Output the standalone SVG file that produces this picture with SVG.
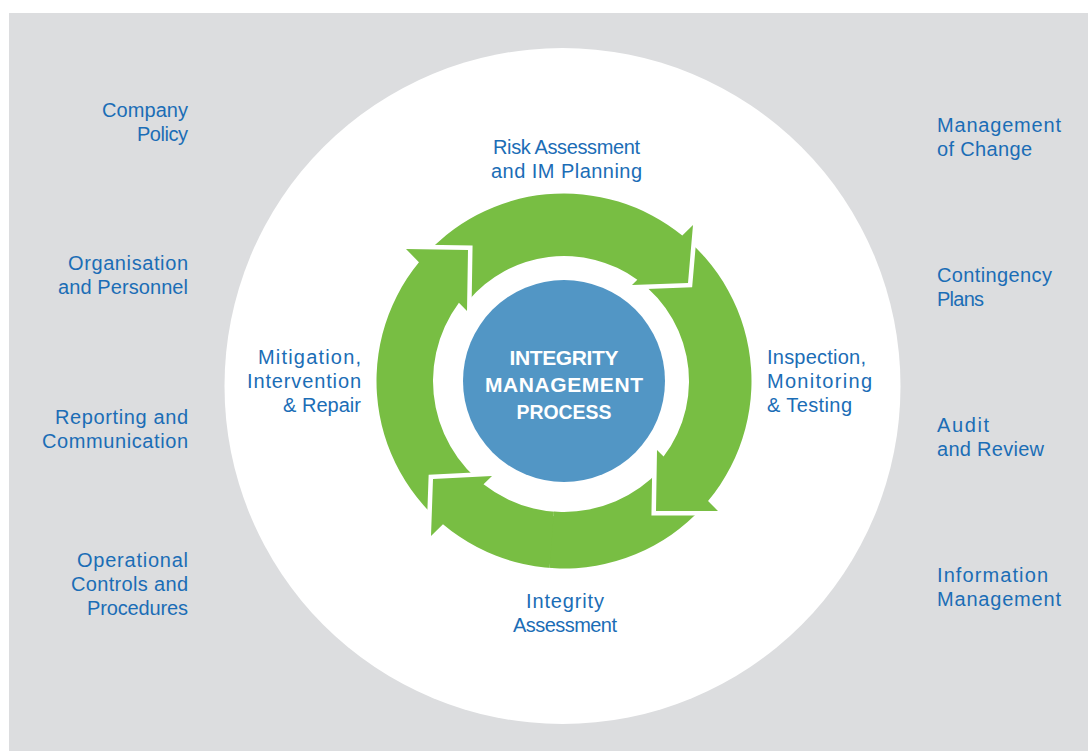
<svg xmlns="http://www.w3.org/2000/svg" width="1088" height="751" viewBox="0 0 1088 751">
  <style>
    .lbl { font-family: "Liberation Sans", Arial, sans-serif; font-size: 20px; fill: #1b6db6; }
    .end { text-anchor: end; }
    .mid { text-anchor: middle; }
    .core { font-family: "Liberation Sans", Arial, sans-serif; font-size: 21px; font-weight: bold; fill: #ffffff; text-anchor: middle; }
    .arrow { fill: #78be43; stroke: #ffffff; stroke-width: 9; stroke-linejoin: miter; paint-order: stroke; }
  </style>
  <defs>
    <clipPath id="wedgeBL">
      <polygon points="564,381 538,720 220,720 220,355"/>
    </clipPath>
    <path id="arrowBottom" d="M 726.38,474.75 A 187.5 187.5 0 0 1 442.98,524.22 L 431,536 L 433,479 L 492,476 L 483.51,484.35 A 131 131 0 0 0 677.45,446.5 Z"/>
  </defs>

  <rect x="9" y="13" width="1079" height="738" fill="#dcdddf"/>
  <circle cx="562.5" cy="386" r="338" fill="#ffffff"/>

  <g id="cycle">
    <g id="arrow-bottom"><use href="#arrowBottom" class="arrow"/></g>
    <g id="arrow-right"><path class="arrow" d="M 657.75,218.62 A 187.5 187.5 0 0 1 708.04,501.04 L 718,511 L 656,511 L 657,450 L 663.57,456.57 A 125 125 0 0 0 626.5,272.75 Z"/></g>
    <g id="arrow-top"><path class="arrow" d="M 420.37,260.48 A 187.5 187.5 0 0 1 682.30,235.53 L 693,225 L 688,283 L 632,285 L 637.32,279.76 A 125 125 0 0 0 468.24,300.65 Z"/></g>
    <g id="arrow-left"><path class="arrow" d="M 470.25,543.38 A 187.5 187.5 0 0 1 418.96,262.17 L 406,249 L 468,250 L 467,311 L 458.91,302.78 A 131 131 0 0 0 498.5,494.45 Z"/></g>
    <g id="arrow-bottom-head" clip-path="url(#wedgeBL)"><use href="#arrowBottom" class="arrow"/></g>
  </g>

  <g id="core">
    <circle cx="564" cy="381" r="101" fill="#5296c5"/>
    <text class="core" x="564" y="365" textLength="109" lengthAdjust="spacing">INTEGRITY</text>
    <text class="core" x="564" y="392" textLength="158" lengthAdjust="spacing">MANAGEMENT</text>
    <text class="core" x="564" y="419" textLength="95" lengthAdjust="spacingAndGlyphs">PROCESS</text>
  </g>

  <g id="step-risk"><text class="lbl mid" x="566.5" y="154" textLength="147" lengthAdjust="spacing">Risk Assessment</text><text class="lbl mid" x="566.5" y="178" textLength="151" lengthAdjust="spacing">and IM Planning</text></g>
  <g id="step-inspection"><text class="lbl" x="767" y="364" textLength="99" lengthAdjust="spacing">Inspection,</text><text class="lbl" x="767" y="388" textLength="105" lengthAdjust="spacing">Monitoring</text><text class="lbl" x="767" y="412" textLength="85" lengthAdjust="spacing">&amp; Testing</text></g>
  <g id="step-integrity"><text class="lbl mid" x="565" y="608" textLength="78" lengthAdjust="spacing">Integrity</text><text class="lbl mid" x="565" y="632" textLength="104" lengthAdjust="spacing">Assessment</text></g>
  <g id="step-mitigation"><text class="lbl end" x="361" y="364" textLength="103" lengthAdjust="spacing">Mitigation,</text><text class="lbl end" x="361" y="388" textLength="114" lengthAdjust="spacing">Intervention</text><text class="lbl end" x="361" y="412" textLength="78" lengthAdjust="spacing">&amp; Repair</text></g>

  <g id="left-company"><text class="lbl end" x="188" y="117" textLength="86" lengthAdjust="spacing">Company</text><text class="lbl end" x="188" y="140.5" textLength="51" lengthAdjust="spacing">Policy</text></g>
  <g id="left-organisation"><text class="lbl end" x="188" y="270" textLength="120" lengthAdjust="spacing">Organisation</text><text class="lbl end" x="188" y="293.5" textLength="130" lengthAdjust="spacing">and Personnel</text></g>
  <g id="left-reporting"><text class="lbl end" x="188" y="423.5" textLength="133" lengthAdjust="spacing">Reporting and</text><text class="lbl end" x="188" y="447.5" textLength="146" lengthAdjust="spacing">Communication</text></g>
  <g id="left-operational"><text class="lbl end" x="188" y="567" textLength="111" lengthAdjust="spacing">Operational</text><text class="lbl end" x="188" y="591" textLength="117" lengthAdjust="spacing">Controls and</text><text class="lbl end" x="188" y="614.5" textLength="101" lengthAdjust="spacing">Procedures</text></g>

  <g id="right-moc"><text class="lbl" x="937" y="132" textLength="124" lengthAdjust="spacing">Management</text><text class="lbl" x="937" y="155.5" textLength="95" lengthAdjust="spacing">of Change</text></g>
  <g id="right-contingency"><text class="lbl" x="937" y="282" textLength="115" lengthAdjust="spacing">Contingency</text><text class="lbl" x="937" y="305.5" textLength="47" lengthAdjust="spacing">Plans</text></g>
  <g id="right-audit"><text class="lbl" x="937" y="432" textLength="52" lengthAdjust="spacing">Audit</text><text class="lbl" x="937" y="456" textLength="107" lengthAdjust="spacing">and Review</text></g>
  <g id="right-information"><text class="lbl" x="937" y="582" textLength="111" lengthAdjust="spacing">Information</text><text class="lbl" x="937" y="605.5" textLength="124" lengthAdjust="spacing">Management</text></g>
</svg>
